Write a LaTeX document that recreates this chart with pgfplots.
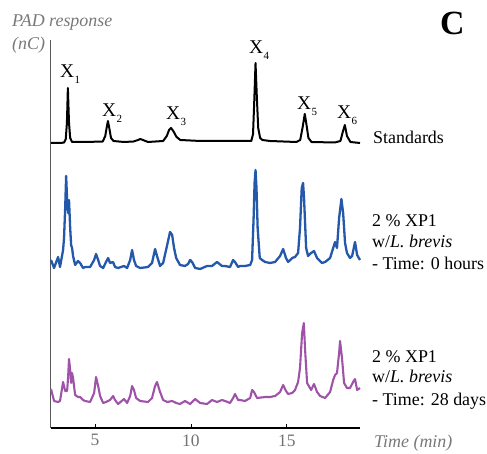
\documentclass[border=0pt]{standalone}
\usepackage{pgfplots}
\pgfplotsset{compat=1.18}
\usepackage{fontspec}
\setmainfont{Liberation Serif}
\definecolor{cblue}{RGB}{35,88,170}
\definecolor{cpurple}{RGB}{158,82,168}
\definecolor{lgray}{RGB}{120,120,120}
\newcommand{\pk}[1]{X\kern0.3pt\raisebox{-6bp}{\fontsize{11}{11}\selectfont #1}}
\begin{document}
\begin{tikzpicture}
\path[use as bounding box] (-51bp,-26bp) rectangle (436bp,428bp);
\begin{axis}[at={(0,0)},anchor=south west,scale only axis,
  width=309bp,height=388bp,
  xmin=2.70,xmax=18.82,ymin=0,ymax=388,
  axis x line*=bottom, axis y line*=left,
  axis line style={-},
  x axis line style={black,line width=1.2bp},
  y axis line style={black!65,line width=1bp},
  ytick=\empty, xtick={5,10,15},
  tick align=inside, major tick length=4bp,
  tick style={black,line width=0.8bp},
  ticklabel style={font=\fontsize{17.5}{17.5}\selectfont, text=black!55, yshift=-3bp},
  /pgf/number format/assume math mode=true,
  clip=false]
\addplot[black,line width=2bp,line join=round] coordinates {
(2.70,285)(3.2,285)(3.38,285.5)(3.47,289)(3.53,305)(3.58,340)(3.64,305)(3.70,290)(3.80,286)(4.5,286)(5.40,286.5)(5.53,292)(5.61,301)(5.67,307)(5.74,300)(5.83,290)(5.96,287)(6.5,286)(7.0,286.5)(7.24,288)(7.35,289)(7.5,288)(7.76,286)(8.55,287)(8.74,292)(8.86,298)(8.96,300)(9.08,297)(9.25,291)(9.45,288)(10.5,287)(12.5,287)(13.15,287)(13.24,294)(13.30,325)(13.37,365)(13.44,330)(13.51,300)(13.61,290)(13.73,288)(14.13,287)(15.5,286)(15.70,288)(15.82,300)(15.94,314)(16.03,303)(16.13,290)(16.29,286)(17.5,285.5)(17.80,287)(17.92,296)(18.03,303)(18.14,292)(18.32,286)(18.82,285)};
\addplot[cblue,line width=2.3bp,line join=round] coordinates {
(2.70,168)(2.86,160)(3.07,171)(3.17,161)(3.33,178)(3.38,190)(3.44,220)(3.49,252)(3.54,228)(3.59,215)(3.64,228)(3.70,200)(3.75,183)(3.80,180)(3.85,172)(3.96,163)(4.11,167)(4.22,165)(4.37,160)(4.48,161)(4.74,161)(4.95,168)(5.05,174)(5.16,168)(5.26,162)(5.42,160)(5.57,166)(5.68,170)(5.78,165)(5.94,166)(6.04,161)(6.20,160)(6.51,162)(6.67,160)(6.83,168)(6.93,178)(7.03,168)(7.14,162)(7.35,160)(7.76,161)(7.97,165)(8.13,179)(8.23,172)(8.39,162)(8.55,165)(8.76,183)(8.91,196)(9.02,193)(9.12,180)(9.23,170)(9.43,163)(9.69,162)(9.85,164)(9.96,168)(10.06,166)(10.22,160)(10.48,159)(10.84,162)(11.10,162)(11.36,166)(11.62,162)(11.78,162)(12.04,161)(12.20,168)(12.30,166)(12.46,161)(12.56,162)(12.82,162)(13.09,163)(13.19,168)(13.27,210)(13.32,245)(13.37,258)(13.42,240)(13.48,200)(13.59,170)(13.71,168)(13.87,166)(14.13,165)(14.39,166)(14.65,172)(14.81,179)(14.96,170)(15.07,166)(15.28,170)(15.43,171)(15.59,175)(15.69,200)(15.78,240)(15.85,245)(15.90,230)(16.01,180)(16.11,172)(16.27,175)(16.42,177)(16.58,170)(16.84,165)(17.00,166)(17.26,170)(17.42,180)(17.52,186)(17.62,180)(17.73,210)(17.85,229)(17.94,215)(18.04,185)(18.14,175)(18.30,170)(18.41,172)(18.56,186)(18.67,173)(18.82,168)};
\addplot[cpurple,line width=2.1bp,line join=round] coordinates {
(2.70,39)(2.86,27)(3.07,26)(3.17,27)(3.28,40)(3.33,46)(3.44,37)(3.54,37)(3.59,50)(3.64,69)(3.70,58)(3.75,45)(3.80,55)(3.85,50)(3.96,33)(4.11,31)(4.22,31)(4.37,28)(4.48,27)(4.74,26)(4.95,35)(5.05,51)(5.16,42)(5.26,32)(5.42,25)(5.57,26)(5.78,28)(5.94,32)(6.04,28)(6.20,24)(6.51,29)(6.67,25)(6.83,32)(6.93,42)(7.03,38)(7.14,30)(7.35,27)(7.76,26)(7.97,30)(8.13,42)(8.23,46)(8.39,36)(8.55,28)(8.76,26)(9.02,27)(9.23,25)(9.43,24)(9.69,27)(9.96,24)(10.22,29)(10.48,25)(10.84,24)(11.10,28)(11.36,26)(11.62,28)(11.78,27)(12.04,25)(12.20,30)(12.30,34)(12.46,28)(12.56,28)(12.82,27)(13.09,30)(13.19,38)(13.29,36)(13.45,30)(13.87,31)(14.13,31)(14.39,32)(14.65,36)(14.81,43)(14.96,37)(15.07,34)(15.28,35)(15.43,38)(15.59,46)(15.69,60)(15.80,95)(15.89,105)(15.95,80)(16.06,45)(16.27,38)(16.42,44)(16.58,36)(16.74,32)(17.00,30)(17.26,36)(17.42,48)(17.52,53)(17.62,55)(17.73,75)(17.78,87)(17.88,70)(17.99,45)(18.14,40)(18.30,40)(18.46,46)(18.56,49)(18.67,38)(18.82,40)};
\end{axis}
\begin{scope}[every node/.style={inner sep=0pt,anchor=base west}]
\node[font=\fontsize{18}{18}\selectfont\itshape,text=lgray] at (-39bp,401bp) {PAD response};
\node[font=\fontsize{18}{18}\selectfont\itshape,text=lgray] at (-39bp,378bp) {(nC)};
\node[font=\fontsize{34}{34}\selectfont\bfseries] at (389bp,393bp) {C};
\node[font=\fontsize{18}{18}\selectfont\itshape,text=lgray] at (323bp,-19bp) {Time (min)};
\node[font=\fontsize{19.5}{19.5}\selectfont] at (9bp,350bp) {\pk{1}};
\node[font=\fontsize{19.5}{19.5}\selectfont] at (51bp,311bp) {\pk{2}};
\node[font=\fontsize{19.5}{19.5}\selectfont] at (115bp,308bp) {\pk{3}};
\node[font=\fontsize{19.5}{19.5}\selectfont] at (198bp,374bp) {\pk{4}};
\node[font=\fontsize{19.5}{19.5}\selectfont] at (246bp,318bp) {\pk{5}};
\node[font=\fontsize{19.5}{19.5}\selectfont] at (286bp,309bp) {\pk{6}};
\node[font=\fontsize{18}{18}\selectfont] at (322bp,284bp) {Standards};
\node[font=\fontsize{18}{18}\selectfont] at (321bp,201bp) {2 \% XP1};
\node[font=\fontsize{18}{18}\selectfont] at (321bp,180bp) {w/\textit{L. brevis}};
\node[font=\fontsize{18}{18}\selectfont] at (321bp,158bp) {- Time: 0 hours};
\node[font=\fontsize{18}{18}\selectfont] at (321bp,65bp) {2 \% XP1};
\node[font=\fontsize{18}{18}\selectfont] at (321bp,45bp) {w/\textit{L. brevis}};
\node[font=\fontsize{18}{18}\selectfont] at (321bp,23bp) {- Time: 28 days};
\end{scope}
\end{tikzpicture}
\end{document}
